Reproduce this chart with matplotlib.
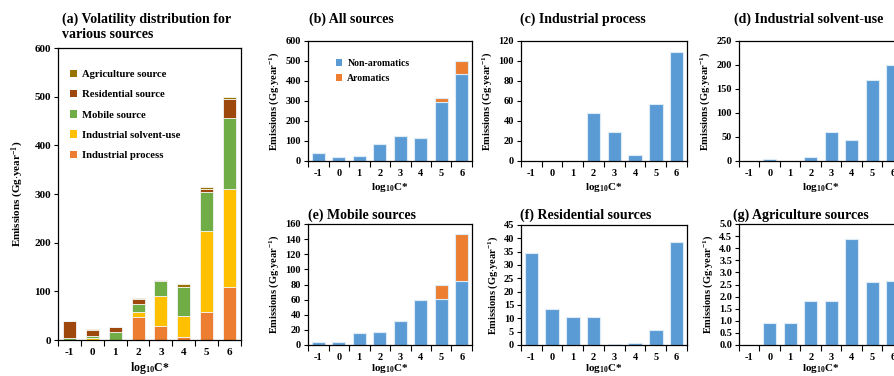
import matplotlib
matplotlib.use("Agg")
import matplotlib.pyplot as plt
import numpy as np
from matplotlib.patches import Patch

plt.rcParams['font.family'] = ['Liberation Serif', 'DejaVu Serif']
plt.rcParams['font.weight'] = 'bold'
plt.rcParams['mathtext.fontset'] = 'custom'
plt.rcParams['mathtext.rm'] = 'Liberation Serif:bold'
plt.rcParams['mathtext.it'] = 'Liberation Serif:bold'
plt.rcParams['mathtext.bf'] = 'Liberation Serif:bold'

# ---------------- data ----------------
bins = ['-1', '0', '1', '2', '3', '4', '5', '6']
industrial_process = [0, 0, 0, 48, 29, 6, 57, 109]
industrial_solvent = [0, 4, 0, 9, 61, 43, 168, 201]
mobile_nonarom = [4, 4, 15.5, 17, 32, 60, 61, 85]
mobile_arom = [0, 0, 0, 0, 0, 0, 19, 62]
residential = [34.5, 13.5, 10.5, 10.5, 0.4, 0.8, 5.8, 38.8]
agriculture = [0, 0.9, 0.9, 1.8, 1.8, 4.4, 2.6, 2.65]
all_nonarom = [38.5, 22.4, 26.9, 86.3, 124.2, 114.2, 294.4, 436.5]
all_arom = [0, 0, 0, 0, 0, 0, 19, 62]

C_PROC = '#ED7D31'
C_SOLV = '#FFC000'
C_MOB = '#70AD47'
C_RES = '#9E480E'
C_AGR = '#997300'
C_BLUE = '#5B9BD5'
C_OR = '#ED7D31'

W, H = 895, 376
fig = plt.figure(figsize=(W / 100, H / 100), dpi=100)


def ax_px(l, t, r, b):
    return fig.add_axes([l / W, 1 - b / H, (r - l) / W, (b - t) / H])


YLAB = 'Emissions (Gg$\\cdot$year$^{-1}$)'
XLAB = 'log$_{10}$C*'
TFS = 10


def style(ax, ymax, step, fmt='{:.0f}', fs=7.5, xlpad=2):
    x = np.arange(len(bins))
    ax.set_xlim(-0.5, len(bins) - 0.5)
    ax.set_ylim(0, ymax)
    ax.set_xticks(x)
    ax.set_xticklabels(bins, fontsize=fs, fontweight='bold')
    ax.set_xticks(np.arange(len(bins) + 1) - 0.5, minor=True)
    ax.tick_params(axis='x', which='major', length=0, pad=6)
    ax.tick_params(axis='x', which='minor', length=4, width=0.8, direction='out')
    yt = np.arange(0, ymax + step / 2, step)
    ax.set_yticks(yt)
    ax.set_yticklabels([fmt.format(v) for v in yt], fontsize=fs, fontweight='bold')
    ax.tick_params(axis='y', length=3, width=0.8, direction='out', pad=2)
    for s in ax.spines.values():
        s.set_linewidth(0.9)
        s.set_color('black')
    ax.set_xlabel(XLAB, fontsize=fs + 0.5, fontweight='bold', labelpad=xlpad)
    ax.set_ylabel(YLAB, fontsize=fs, fontweight='bold', labelpad=3)


x = np.arange(len(bins))

# ---------------- panel (a) ----------------
axa = ax_px(58, 48, 241, 340)
bw = 0.57
ekw = dict(edgecolor='#F4F4F4', linewidth=0.6)
bottom = np.zeros(len(bins))
stack = [
    (industrial_process, C_PROC, 'Industrial process'),
    (industrial_solvent, C_SOLV, 'Industrial solvent-use'),
    (list(np.add(mobile_nonarom, mobile_arom)), C_MOB, 'Mobile source'),
    (residential, C_RES, 'Residential source'),
    (agriculture, C_AGR, 'Agriculture source'),
]
for vals, col, lab in stack:
    axa.bar(x, vals, bw, bottom=bottom, color=col, label=lab, **ekw)
    bottom = bottom + np.array(vals)
style(axa, 600, 100, fs=8)
axa.yaxis.labelpad = 6
handles = [Patch(facecolor=c, label=l) for _, c, l in stack[::-1]]
axa.legend(handles=handles, loc='upper left', bbox_to_anchor=(0.04, 0.94),
           frameon=False, prop={'weight': 'bold', 'size': 7.7},
           handlelength=0.7, handleheight=0.7, handletextpad=0.5,
           labelspacing=1.0, borderaxespad=0)
fig.text(62 / W, 1 - 26.5 / H, '(a) Volatility distribution for\nvarious sources',
         ha='left', va='center', fontsize=TFS, fontweight='bold', linespacing=1.2)

bkw = dict(edgecolor='#DDEBF7', linewidth=0.8)

# ---------------- panel (b) ----------------
axb = ax_px(308, 41, 472, 161)
bw2 = 0.65
axb.bar(x, all_nonarom, bw2, color=C_BLUE, label='Non-aromatics', **bkw)
axb.bar(x, all_arom, bw2, bottom=all_nonarom, color=C_OR, label='Aromatics', **bkw)
style(axb, 600, 100)
hb = [Patch(facecolor=C_BLUE, label='Non-aromatics'), Patch(facecolor=C_OR, label='Aromatics')]
axb.legend(handles=hb, loc='upper left', bbox_to_anchor=(0.145, 0.88), frameon=False,
           prop={'weight': 'bold', 'size': 7}, handlelength=0.7, handleheight=0.7,
           handletextpad=0.5, labelspacing=0.6, borderaxespad=0)
fig.text(309 / W, 1 - 19 / H, '(b) All sources', ha='left', va='center',
         fontsize=TFS, fontweight='bold')

# ---------------- panel (c) ----------------
axc = ax_px(521, 41, 687, 161)
axc.bar(x, industrial_process, bw2, color=C_BLUE, **bkw)
style(axc, 120, 20)
fig.text(520 / W, 1 - 19 / H, '(c) Industrial process', ha='left', va='center',
         fontsize=TFS, fontweight='bold')

# ---------------- panel (d) ----------------
axd = ax_px(739, 41, 903, 161)
axd.bar(x, industrial_solvent, bw2, color=C_BLUE, **bkw)
style(axd, 250, 50)
fig.text(734 / W, 1 - 19 / H, '(d) Industrial solvent-use', ha='left', va='center',
         fontsize=TFS, fontweight='bold')

# ---------------- panel (e) ----------------
axe = ax_px(308, 224, 472, 345)
axe.bar(x, mobile_nonarom, bw2, color=C_BLUE, **bkw)
axe.bar(x, mobile_arom, bw2, bottom=mobile_nonarom, color=C_OR, **bkw)
style(axe, 160, 20, xlpad=0)
fig.text(308 / W, 1 - 215 / H, '(e) Mobile sources', ha='left', va='center',
         fontsize=TFS, fontweight='bold')

# ---------------- panel (f) ----------------
axf = ax_px(521, 225, 687, 345)
axf.bar(x, residential, bw2, color=C_BLUE, **bkw)
style(axf, 45, 5, xlpad=0)
fig.text(520 / W, 1 - 215 / H, '(f) Residential sources', ha='left', va='center',
         fontsize=TFS, fontweight='bold')

# ---------------- panel (g) ----------------
axg = ax_px(739, 224, 903, 345)
axg.bar(x, agriculture, bw2, color=C_BLUE, **bkw)
style(axg, 5.0, 0.5, fmt='{:.1f}', xlpad=0)
fig.text(733 / W, 1 - 215 / H, '(g) Agriculture sources', ha='left', va='center',
         fontsize=TFS, fontweight='bold')

fig.savefig('out.png', dpi=100)
